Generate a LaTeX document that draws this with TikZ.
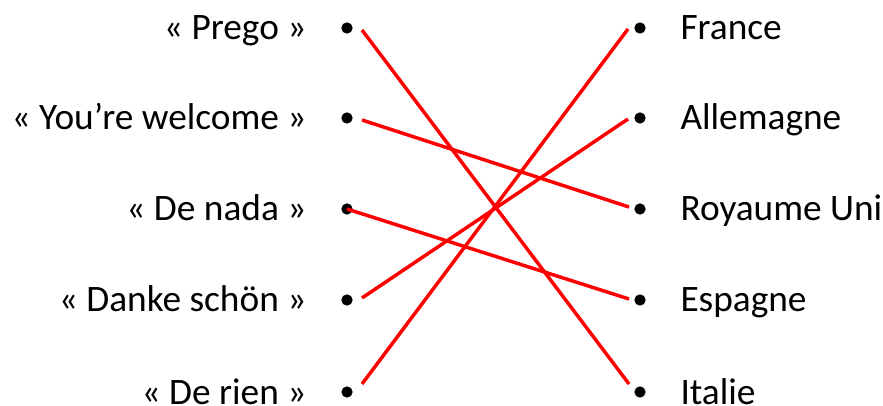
\documentclass[tikz,border=0pt]{standalone}
\usepackage{fontspec}
\setmainfont{Carlito}

\tikzset{every picture/.style={line width=0.75pt}}
\tikzset{
  dot/.style={circle, fill=black, inner sep=0pt, minimum size=8.5pt},
  lbl/.style={inner sep=0pt, font=\fontsize{28}{33}\selectfont},
  link/.style={draw={rgb, 255:red, 255; green, 0; blue, 0}, line width=2.6pt},
}

\begin{document}
\begin{tikzpicture}[x=0.75pt,y=0.75pt,yscale=-1,xscale=1]
\useasboundingbox (0,0) rectangle (883,406);

% Left dots
\node (l1) at (347,28) [dot] {};
\node (l2) at (347,118) [dot] {};
\node (l3) at (347,209) [dot] {};
\node (l4) at (347,300) [dot] {};
\node (l5) at (347,392) [dot] {};
% Right dots
\node (r1) at (640,28) [dot] {};
\node (r2) at (640,118) [dot] {};
\node (r3) at (640,209) [dot] {};
\node (r4) at (640,300) [dot] {};
\node (r5) at (640,392) [dot] {};

% Text Node
\node (t1) at (307,40) [lbl, anchor=base east] {« Prego »};
\node (t2) at (307,130) [lbl, anchor=base east] {« You’re welcome »};
\node (t3) at (307,221) [lbl, anchor=base east] {« De nada »};
\node (t4) at (307,312) [lbl, anchor=base east] {« Danke schön »};
\node (t5) at (307,404) [lbl, anchor=base east] {« De rien »};
% Text Node
\node (p1) at (680,40) [lbl, anchor=base west] {France};
\node (p2) at (680,130) [lbl, anchor=base west] {Allemagne};
\node (p3) at (680,221) [lbl, anchor=base west] {Royaume Uni};
\node (p4) at (680,312) [lbl, anchor=base west] {Espagne};
\node (p5) at (680,404) [lbl, anchor=base west] {Italie};

% Links
\draw [link] ([shift={(15,2)}]l1.center) -- ([shift={(-11,-8)}]r5.center);
\draw [link] ([shift={(15,2)}]l2.center) -- ([shift={(-11,-2)}]r3.center);
\draw [link] (l3.center) -- ([shift={(-11,-1)}]r4.center);
\draw [link] ([shift={(15,-2)}]l4.center) -- ([shift={(-12,1)}]r2.center);
\draw [link] ([shift={(15,-8)}]l5.center) -- ([shift={(-12,1)}]r1.center);

\end{tikzpicture}
\end{document}
